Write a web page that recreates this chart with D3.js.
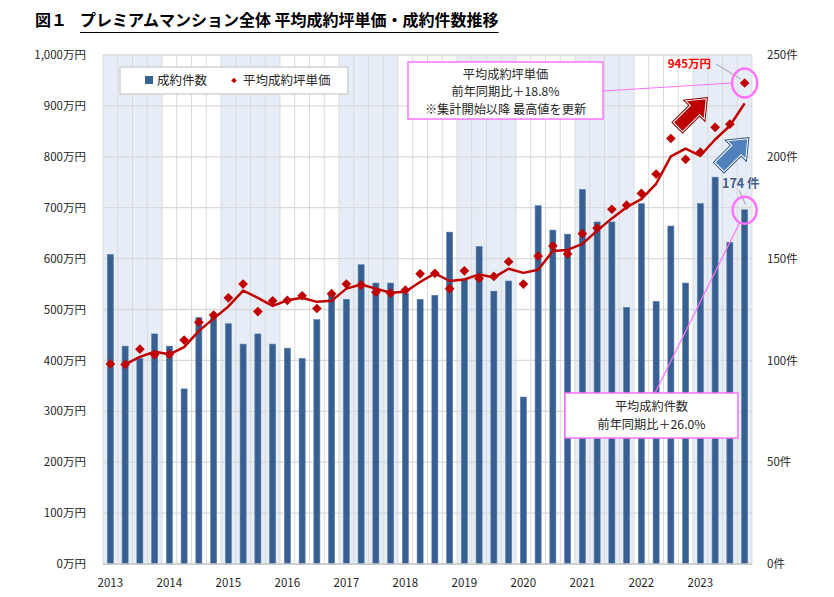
<!DOCTYPE html>
<html>
<head>
<meta charset="utf-8">
<script src="https://cdn.jsdelivr.net/npm/d3@7"></script>
<style>
  body { margin: 0; background: #fff; }
  svg { display: block; font-family: "Noto Sans CJK JP", "Noto Sans", sans-serif; }
</style>
</head>
<body>
<svg id="chart" width="834" height="597"></svg>
<script>
// ---- data (quarterly, 2013Q1 .. 2023Q4) ----
const years = [2013, 2014, 2015, 2016, 2017, 2018, 2019, 2020, 2021, 2022, 2023];
const quarters = ["Q1", "Q2", "Q3", "Q4"];
// 成約件数 (件)
const dealCounts = [
  152, 107, 101, 113,
  107, 86, 121, 121,
  118, 108, 113, 108,
  106, 101, 120, 132,
  130, 147, 138, 138,
  133, 130, 132, 163,
  140, 156, 134, 139,
  82, 176, 164, 162,
  184, 168, 168, 126,
  177, 129, 166, 138,
  177, 190, 158, 174
];
// 平均成約坪単価 (万円)
const avgPrice = [
  393, 392, 422, 411,
  412, 440, 475, 489,
  523, 550, 496, 517,
  518, 527, 502, 531,
  550, 548, 534, 532,
  538, 570, 571, 541,
  576, 561, 565, 594,
  550, 605, 625, 609,
  649, 660, 697, 705,
  728, 766, 836, 795,
  809, 858, 864, 945
];
// trend line (starts at 2013Q2)
const trendLine = [
  null, 392, 407, 417, 412, 426, 458, 482, 506, 537, 523, 507, 518, 523, 515, 517,
  541, 549, 541, 533, 535, 554, 571, 556, 559, 569, 563, 580, 572, 578, 615, 617,
  629, 655, 679, 701, 717, 747, 801, 816, 802, 834, 861, 905
];
const leftTicks = [0, 100, 200, 300, 400, 500, 600, 700, 800, 900, 1000];
const rightTicks = [0, 50, 100, 150, 200, 250];
const legendLabels = ["成約件数", "平均成約坪単価"];
const titleNo = "図１";
const titleText = "プレミアムマンション全体 平均成約坪単価・成約件数推移";
const note1 = ["平均成約坪単価", "前年同期比＋18.8%", "※集計開始以降 最高値を更新"];
const note2 = ["平均成約件数", "前年同期比＋26.0%"];
const peakLabel = "945万円";
const countLabel = "174 件";

// ---- layout ----
const L = 103, R = 752, T = 55, B = 564;
const svg = d3.select("#chart");
const n = dealCounts.length;
const idx = d3.range(n);

const pad = 0.59;
const x = d3.scaleBand().domain(idx).range([L, R]).paddingInner(pad).paddingOuter(pad / 2);
const xq = d3.scaleLinear().domain([0, n]).range([L, R]);
const yL = d3.scaleLinear().domain([0, 1000]).range([B, T]);
const yR = d3.scaleLinear().domain([0, 250]).range([B, T]);
const cx = i => x(i) + x.bandwidth() / 2;

const C = {
  bar: "#375f91", barEdge: "#5a7fae", price: "#c00000", shade: "#e7edf6",
  grid: "#d9d9d9", pink: "#ff72ff", text: "#262626"
};

// title
svg.append("text").attr("x", 35).attr("y", 26).attr("font-size", 16).attr("font-weight", "bold")
  .attr("fill", "#000").text(titleNo);
const tt = svg.append("text").attr("x", 80).attr("y", 26).attr("font-size", 16).attr("font-weight", "bold")
  .attr("fill", "#000").text(titleText);
const tw = tt.node().getComputedTextLength();
svg.append("line").attr("x1", 80).attr("x2", 80 + tw).attr("y1", 32.5).attr("y2", 32.5)
  .attr("stroke", "#000").attr("stroke-width", 1.2);

// year shading (odd years)
years.forEach((yr, k) => {
  if (k % 2 === 0) {
    svg.append("rect").attr("x", xq(k * 4)).attr("y", T)
      .attr("width", xq(k * 4 + 4) - xq(k * 4)).attr("height", B - T).attr("fill", C.shade);
  }
});

// grid
svg.append("g").selectAll("line").data(d3.range(n + 1)).join("line")
  .attr("x1", d => xq(d)).attr("x2", d => xq(d)).attr("y1", T).attr("y2", B)
  .attr("stroke", C.grid).attr("stroke-width", 1);
svg.append("g").selectAll("line").data(leftTicks).join("line")
  .attr("x1", L).attr("x2", R).attr("y1", d => yL(d)).attr("y2", d => yL(d))
  .attr("stroke", C.grid).attr("stroke-width", 1.3);

// bars
svg.append("g").selectAll("rect").data(dealCounts).join("rect")
  .attr("x", (d, i) => x(i)).attr("width", x.bandwidth())
  .attr("y", d => yR(d)).attr("height", d => B - yR(d))
  .attr("fill", C.bar).attr("stroke", C.barEdge).attr("stroke-width", 0.6);

// bottom axis line
svg.append("line").attr("x1", L).attr("x2", R).attr("y1", B).attr("y2", B)
  .attr("stroke", "#c8c8c8").attr("stroke-width", 1.5);

// trend line
const line = d3.line().defined(d => d != null).x((d, i) => cx(i)).y(d => yL(d));
svg.append("path").datum(trendLine).attr("d", line)
  .attr("fill", "none").attr("stroke", C.price).attr("stroke-width", 2.5)
  .attr("stroke-linejoin", "round");

// diamonds
const diamond = d3.symbol().type(d3.symbolDiamond2).size(60);
svg.append("g").selectAll("path").data(avgPrice).join("path")
  .attr("d", diamond)
  .attr("transform", (d, i) => `translate(${cx(i)},${yL(d)})`)
  .attr("fill", C.price);

// axes
const fmtL = d => d3.format(",")(d) + "万円";
const gL = svg.append("g").attr("transform", `translate(${L - 14},0)`)
  .call(d3.axisLeft(yL).tickValues(leftTicks).tickFormat(fmtL).tickSize(0));
const gR = svg.append("g").attr("transform", `translate(${R + 12},0)`)
  .call(d3.axisRight(yR).tickValues(rightTicks).tickFormat(d => d + "件").tickSize(0));
const gB = svg.append("g").attr("transform", `translate(0,${B + 10})`)
  .call(d3.axisBottom(x).tickValues(years.map((y, k) => k * 4)).tickFormat(d => years[d / 4]).tickSize(0));
[gL, gR, gB].forEach(g => {
  g.select(".domain").remove();
  g.selectAll("text").attr("font-size", 11.5).attr("fill", C.text)
    .attr("font-family", "'Noto Sans CJK JP', sans-serif");
});
gB.selectAll("text").attr("dy", "0.9em");

// legend
const lg = svg.append("g");
lg.append("rect").attr("x", 120).attr("y", 67).attr("width", 228).attr("height", 27)
  .attr("fill", "#fff").attr("stroke", "#c8c8c8").attr("stroke-width", 1.2);
lg.append("rect").attr("x", 145).attr("y", 76).attr("width", 8).attr("height", 8).attr("fill", C.bar);
lg.append("text").attr("x", 157).attr("y", 85).attr("font-size", 12.5).attr("fill", C.text).text(legendLabels[0]);
lg.append("path").attr("d", d3.symbol().type(d3.symbolDiamond2).size(20))
  .attr("transform", "translate(234,80.5)").attr("fill", C.price);
lg.append("text").attr("x", 243).attr("y", 85).attr("font-size", 12.5).attr("fill", C.text).text(legendLabels[1]);

// annotation geometry from data
const last = n - 1;
const pPeak = [cx(last), yL(avgPrice[last])];
const pCount = [cx(last), yR(dealCounts[last])];

// leader lines
svg.append("line").attr("x1", 603).attr("y1", 91).attr("x2", pPeak[0] - 12).attr("y2", pPeak[1])
  .attr("stroke", C.pink).attr("stroke-width", 1.2);
svg.append("line").attr("x1", 655).attr("y1", 393).attr("x2", pCount[0] - 5).attr("y2", pCount[1] + 13)
  .attr("stroke", C.pink).attr("stroke-width", 1.2);
svg.append("line").attr("x1", 716).attr("y1", 64).attr("x2", pPeak[0] - 4).attr("y2", pPeak[1] - 4)
  .attr("stroke", "#a0a0a0").attr("stroke-width", 1);
svg.append("line").attr("x1", 739).attr("y1", 190).attr("x2", pCount[0] + 1).attr("y2", pCount[1] - 5)
  .attr("stroke", "#a0a0a0").attr("stroke-width", 1);

// ellipses
svg.append("ellipse").attr("cx", pPeak[0]).attr("cy", pPeak[1]).attr("rx", 12.5).attr("ry", 14.5)
  .attr("fill", "none").attr("stroke", C.pink).attr("stroke-width", 2.5);
svg.append("ellipse").attr("cx", pCount[0]).attr("cy", pCount[1] + 0.5).attr("rx", 12).attr("ry", 13.5)
  .attr("fill", "none").attr("stroke", C.pink).attr("stroke-width", 2.5);

// note boxes
function noteBox(x0, y0, w, h, lines, firstY, gap) {
  svg.append("rect").attr("x", x0).attr("y", y0).attr("width", w).attr("height", h)
    .attr("fill", "#fff").attr("stroke", C.pink).attr("stroke-width", 1.5);
  lines.forEach((t, i) => {
    svg.append("text").attr("x", x0 + w / 2).attr("y", firstY + i * gap)
      .attr("text-anchor", "middle").attr("font-size", 12.2).attr("fill", C.text).text(t);
  });
}
noteBox(408, 62, 195, 57, note1, 78.5, 17.8);
noteBox(565, 393, 173, 45, note2, 411, 17.8);

// labels
svg.append("text").attr("x", 711).attr("y", 68).attr("text-anchor", "end")
  .attr("font-size", 11.5).attr("font-weight", "bold").attr("fill", "#ff0000").text(peakLabel);
svg.append("text").attr("x", 722).attr("y", 188)
  .attr("font-size", 12.5).attr("font-weight", "bold").attr("fill", "#44618f").text(countLabel);

// arrows
function arrow(tx, ty, fill, edge) {
  const pts = [[0, -6.5], [24, -6.5], [24, -13], [40, 0], [24, 13], [24, 6.5], [0, 6.5]];
  const g = svg.append("g").attr("transform", `translate(${tx},${ty}) rotate(-45)`);
  g.append("polygon").attr("points", pts.join(" ")).attr("fill", fill)
    .attr("stroke", edge).attr("stroke-width", 3).attr("stroke-linejoin", "miter");
  g.append("polygon").attr("points", pts.join(" ")).attr("fill", fill)
    .attr("stroke", "#fff").attr("stroke-width", 1).attr("stroke-linejoin", "miter");
}
arrow(678, 127, "#c00000", "#8a0000");
arrow(719.5, 167, "#4f81bd", "#385d8a");
</script>
</body>
</html>
